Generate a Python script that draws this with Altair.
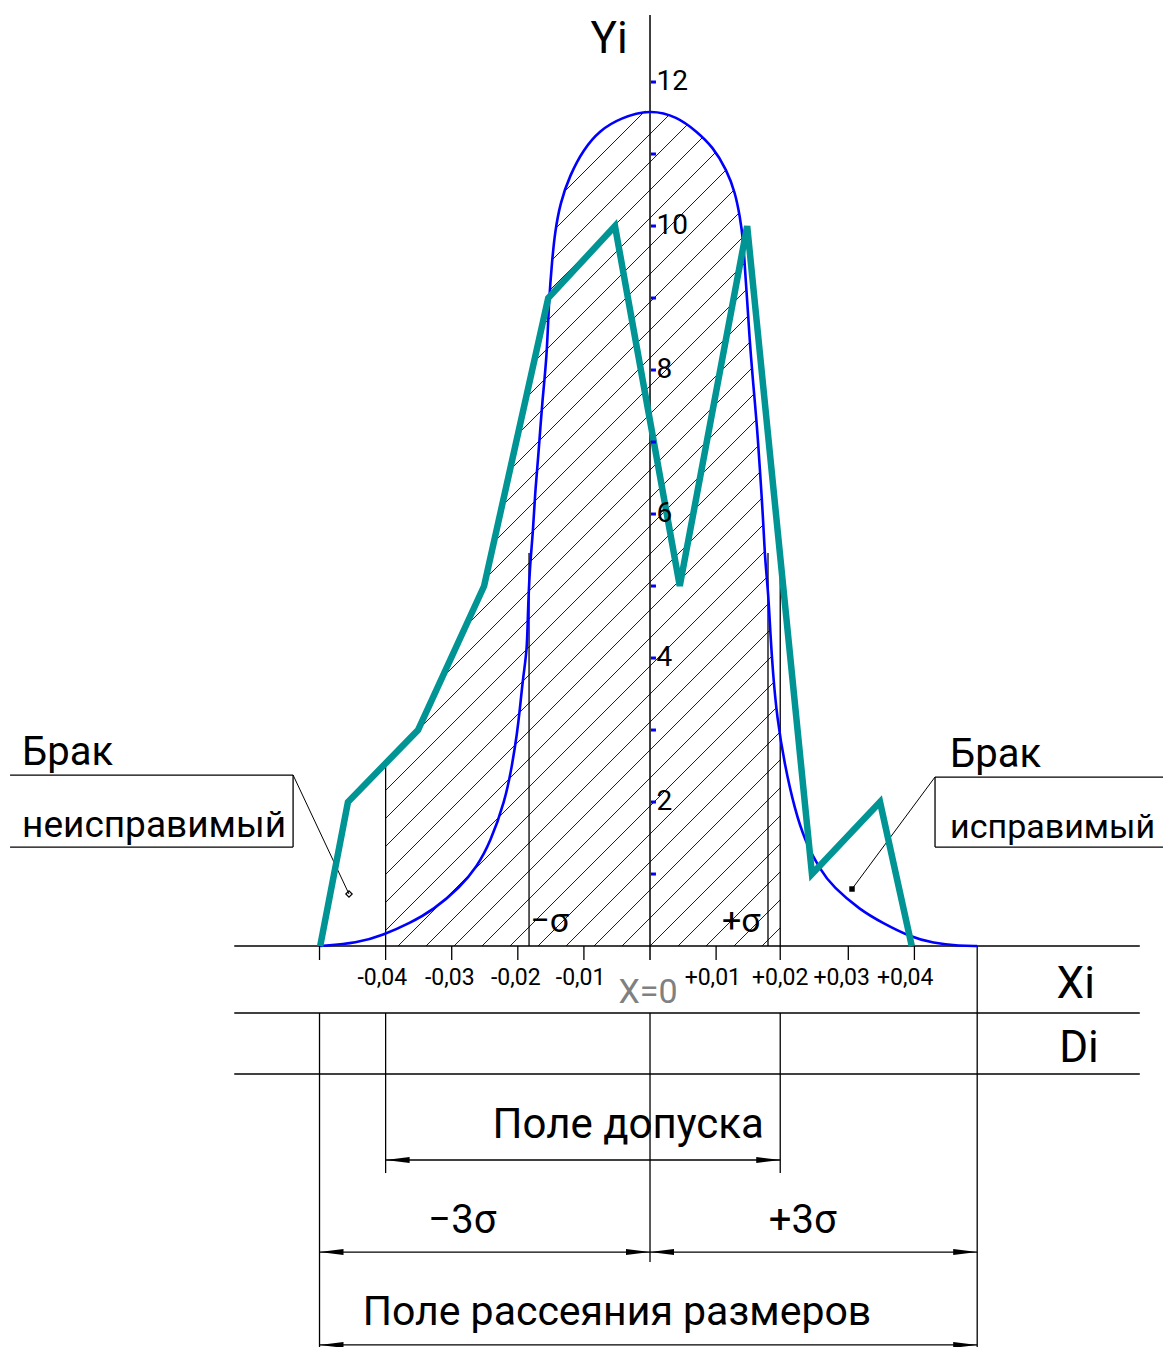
import altair as alt
import numpy as np
import pandas as pd

# ---------------- data (x in mm deviation, y = frequency Yi) ----------------
blue_x = [-0.0499, -0.0443, -0.0404, -0.0363, -0.0328, -0.0287, -0.0262, -0.0242,
          -0.0219, -0.0209, -0.0201, -0.0197, -0.0192, -0.0186, -0.0185, -0.0182,
          -0.0177, -0.0174, -0.0169, -0.0163, -0.0156, -0.0153, -0.0148, -0.0144,
          -0.0136, -0.0121, -0.0101, -0.0076, -0.0045, 0.0, 0.0041, 0.0071, 0.0095,
          0.0116, 0.0129, 0.0136, 0.0141, 0.0144, 0.0147, 0.0151, 0.0156, 0.0162,
          0.0166, 0.0171, 0.0174, 0.0179, 0.0182, 0.0186, 0.0192, 0.0204, 0.0219,
          0.0234, 0.0257, 0.0277, 0.0318, 0.0352, 0.0393, 0.0428, 0.0469, 0.0495]
blue_y = [0.0, 0.04, 0.15, 0.32, 0.5, 0.82, 1.1, 1.43,
          2.03, 2.49, 2.96, 3.28, 3.74, 4.11, 4.57, 5.26,
          5.74, 6.29, 6.79, 7.58, 8.18, 8.97, 9.53, 9.9,
          10.32, 10.71, 11.06, 11.33, 11.5, 11.62, 11.52, 11.31, 11.1,
          10.78, 10.46, 10.13, 9.81, 9.35, 8.97, 8.38, 7.82, 7.21,
          6.65, 5.96, 5.36, 4.9, 4.35, 3.79, 3.18, 2.5, 1.9,
          1.47, 1.06, 0.82, 0.5, 0.32, 0.13, 0.04, 0.0, 0.0]

teal_x = [-0.0499, -0.0457, -0.0351, -0.0251, -0.0154, -0.0053, 0.0045, 0.0147,
          0.0245, 0.0348, 0.0396]
teal_y = [0, 2, 3, 5, 9, 10, 5, 10, 1, 2, 0]

y_tick_values = [1, 2, 3, 4, 5, 6, 7, 8, 9, 10, 11, 12]
y_label_values = [12, 10, 8, 6, 4, 2]
x_label_values = [-0.0405, -0.0303, -0.0203, -0.0105, 0.0095, 0.0197, 0.029, 0.0386]
x_label_texts = ["-0,04", "-0,03", "-0,02", "-0,01", "+0,01", "+0,02", "+0,03", "+0,04"]

minus_sigma = -0.0183
plus_sigma = 0.01785
tol_low, tol_high = -0.04, 0.0197
scat_low, scat_high = -0.05, 0.0495

# ---------------- canvas / scales ----------------
W, H = 1155, 1339
XDOM = [-0.09713, 0.07761]
YDOM = [-5.569, 13.028]
KX = W / (XDOM[1] - XDOM[0])
KY = H / (YDOM[1] - YDOM[0])
xs = alt.Scale(domain=XDOM, nice=False, zero=False)
ys = alt.Scale(domain=YDOM, nice=False, zero=False)
FONT = "Roboto, Liberation Sans, sans-serif"

def X(f):
    return alt.X(f, type="quantitative", scale=xs, axis=None)

def Y(f):
    return alt.Y(f, type="quantitative", scale=ys, axis=None)

# ---------------- line segments of the drawing ----------------
segs = []
def seg(x1, y1, x2, y2, w=1.3):
    segs.append(dict(x=x1, y=y1, x2=x2, y2=y2, w=w))

tab_l, tab_r = -0.0629, 0.0741
row_y = [0.0, -0.9306, -1.7778]
tick_b = -0.194
for ry in row_y:
    seg(tab_l, ry, tab_r, ry, 1.5)
seg(0, 12.93, 0, tick_b, 1.5)
seg(0, row_y[1], 0, -4.389, 1.3)
seg(scat_low, 0, scat_low, tick_b)
seg(scat_low, row_y[1], scat_low, -5.611)
seg(tol_low, 2.5, tol_low, tick_b)
seg(tol_low, row_y[1], tol_low, -3.153)
seg(minus_sigma, 5.458, minus_sigma, 0)
seg(plus_sigma, 5.458, plus_sigma, 0)
seg(tol_high, 5.458, tol_high, tick_b)
seg(tol_high, row_y[1], tol_high, -3.153)
seg(scat_high, 0, scat_high, -5.611)
for t in [-0.03, -0.02, -0.01, 0.01, 0.03, 0.04]:
    seg(t, 0, t, tick_b)
# dimension lines
dim_tol_y, dim_3s_y, dim_sc_y = -2.972, -4.25, -5.54
seg(tol_low, dim_tol_y, tol_high, dim_tol_y)
seg(scat_low, dim_3s_y, scat_high, dim_3s_y)
seg(scat_low, dim_sc_y, scat_high, dim_sc_y)
# boxes and leaders
seg(-0.09682, 2.375, -0.054, 2.375)
seg(-0.054, 2.375, -0.054, 1.375)
seg(-0.09682, 1.375, -0.054, 1.375)
seg(-0.054, 2.375, -0.04554, 0.722, 1.0)
seg(0.04312, 2.347, 0.07882, 2.347)
seg(0.04312, 2.347, 0.04312, 1.375)
seg(0.04312, 1.375, 0.07882, 1.375)
seg(0.04312, 2.347, 0.03056, 0.792, 1.0)
seg_df = pd.DataFrame(segs)

# ---------------- hatching (45 deg in screen space) ----------------
bx, by = np.array(blue_x), np.array(blue_y)
tx, ty = np.array(teal_x), np.array(teal_y)

def top(x):
    b = np.interp(x, bx, by)
    t = np.interp(x, tx, ty)
    return np.where(x < teal_x[4], np.maximum(b, t), b)

hatch = []
STEP = 28.0
xx = np.linspace(tol_low, tol_high, 4000)
for k in range(-45, 8):
    s = STEP * k
    yy = (KX * xx - s) / KY
    inside = (yy >= 0) & (yy <= top(xx))
    if not inside.any():
        continue
    idx = np.flatnonzero(inside)
    runs = np.split(idx, np.flatnonzero(np.diff(idx) > 1) + 1)
    for r in runs:
        if len(r) < 2:
            continue
        hatch.append(dict(x=xx[r[0]], y=yy[r[0]], x2=xx[r[-1]], y2=yy[r[-1]]))
hatch_df = pd.DataFrame(hatch)

blue_df = pd.DataFrame({"x": blue_x, "y": blue_y, "i": range(len(blue_x))})
teal_df = pd.DataFrame({"x": teal_x, "y": teal_y, "i": range(len(teal_x))})

# ---------------- layers ----------------
hatch_layer = alt.Chart(hatch_df).mark_rule(color="black", strokeWidth=0.9).encode(
    x=X("x"), y=Y("y"), x2="x2", y2="y2")

seg_layer = alt.Chart(seg_df).mark_rule(color="black").encode(
    x=X("x"), y=Y("y"), x2="x2", y2="y2",
    strokeWidth=alt.StrokeWidth("w:Q", scale=None))

blue_layer = alt.Chart(blue_df).mark_line(color="#0000ff", strokeWidth=2.6,
                                          interpolate="basis").encode(
    x=X("x"), y=Y("y"), order="i:Q")

teal_layer = alt.Chart(teal_df).mark_line(color="#009494", strokeWidth=6.5,
                                          strokeJoin="miter").encode(
    x=X("x"), y=Y("y"), order="i:Q")

ytick_df = pd.DataFrame({"x": 0.00015, "x2": 0.0009, "y": y_tick_values})
ytick_layer = alt.Chart(ytick_df).mark_rule(color="#0000ff", strokeWidth=3).encode(
    x=X("x"), x2="x2", y=Y("y"))

ylab_df = pd.DataFrame({"x": 0.001, "y": y_label_values,
                        "t": [str(v) for v in y_label_values]})
ylab_layer = alt.Chart(ylab_df).mark_text(font=FONT, fontSize=28, align="left",
                                          baseline="middle", color="black").encode(
    x=X("x"), y=Y("y"), text="t:N")

xlab_df = pd.DataFrame({"x": x_label_values, "y": -0.5417, "t": x_label_texts})
xlab_layer = alt.Chart(xlab_df).mark_text(font=FONT, fontSize=23, align="center",
                                          baseline="alphabetic", color="black").encode(
    x=X("x"), y=Y("y"), text="t:N")

def text_layer(xv, yv, txt, size, align="center", color="black"):
    df = pd.DataFrame({"x": [xv], "y": [yv], "t": [txt]})
    return alt.Chart(df).mark_text(font=FONT, fontSize=size, align=align,
                                   baseline="alphabetic", color=color).encode(
        x=X("x"), y=Y("y"), text="t:N")

texts = [
    text_layer(-0.0062, 12.403, "Yi", 44),
    text_layer(-0.0003, -0.7917, "X=0", 34, color="#808080"),
    text_layer(0.0644, -0.7222, "Xi", 44),
    text_layer(0.0649, -1.611, "Di", 44),
    text_layer(-0.0152, 0.1944, "−σ", 34),
    text_layer(0.0138, 0.1944, "+σ", 34),
    text_layer(-0.0033, -2.667, "Поле допуска", 42),
    text_layer(-0.0284, -3.986, "−3σ", 40),
    text_layer(0.0231, -3.986, "+3σ", 40),
    text_layer(-0.0050, -5.264, "Поле рассеяния размеров", 41),
    text_layer(-0.0950, 2.514, "Брак", 40, align="left"),
    text_layer(-0.0950, 1.514, "неисправимый", 37, align="left"),
    text_layer(0.0454, 2.486, "Брак", 40, align="left"),
    text_layer(0.0454, 1.500, "исправимый", 34, align="left"),
]

arrow_l_df = pd.DataFrame({"x": [tol_low, scat_low, 0.0, scat_low],
                           "y": [dim_tol_y, dim_3s_y, dim_3s_y, dim_sc_y]})
arrow_r_df = pd.DataFrame({"x": [tol_high, 0.0, scat_high, scat_high],
                           "y": [dim_tol_y, dim_3s_y, dim_3s_y, dim_sc_y]})
arrow_l = alt.Chart(arrow_l_df).mark_point(shape="M 0 0 L 2 -0.25 L 2 0.25 Z",
                                           size=576, filled=True, color="black",
                                           opacity=1).encode(x=X("x"), y=Y("y"))
arrow_r = alt.Chart(arrow_r_df).mark_point(shape="M 0 0 L -2 -0.25 L -2 0.25 Z",
                                           size=576, filled=True, color="black",
                                           opacity=1).encode(x=X("x"), y=Y("y"))

mark_l = alt.Chart(pd.DataFrame({"x": [-0.04554], "y": [0.722]})).mark_point(
    shape="diamond", size=40, filled=False, color="black", strokeWidth=1.2,
    opacity=1).encode(x=X("x"), y=Y("y"))
mark_r = alt.Chart(pd.DataFrame({"x": [0.03056], "y": [0.792]})).mark_point(
    shape="square", size=30, filled=True, color="black", opacity=1).encode(
    x=X("x"), y=Y("y"))

chart = alt.layer(
    hatch_layer, seg_layer, blue_layer, teal_layer, ytick_layer, ylab_layer,
    xlab_layer, *texts, arrow_l, arrow_r, mark_l, mark_r
).properties(
    width=W, height=H, padding=0,
    autosize=alt.AutoSizeParams(type="none"),
    background="white",
).configure_view(stroke=None)

chart.save("out.html", embed_options={"renderer": "svg", "actions": False})
